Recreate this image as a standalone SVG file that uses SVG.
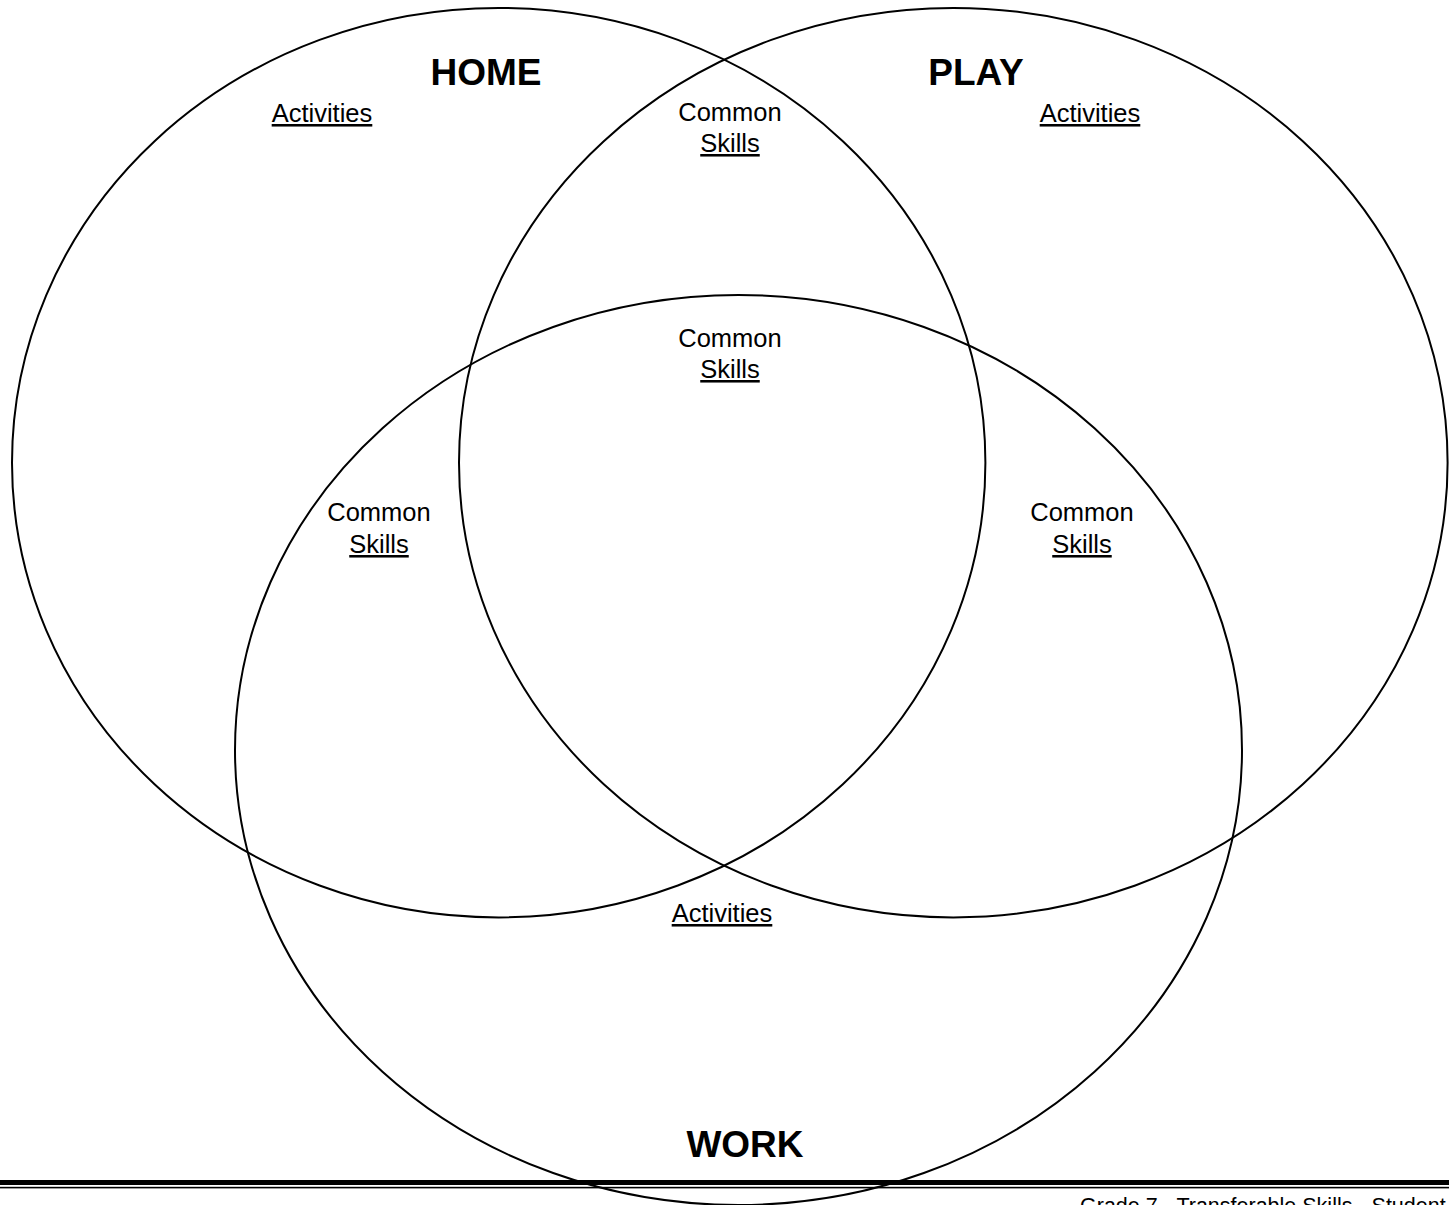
<svg xmlns="http://www.w3.org/2000/svg" width="1449" height="1205" viewBox="0 0 1449 1205">
<style>
.c{fill:none;stroke:#000;stroke-width:2}
.t{font-family:"Liberation Sans",Arial,sans-serif;font-size:25.5px;fill:#000;text-anchor:middle}
.u{text-decoration:underline}
.b{font-family:"Liberation Sans",Arial,sans-serif;font-size:37px;font-weight:bold;fill:#000;text-anchor:middle}
.f{font-family:"Liberation Sans",Arial,sans-serif;font-size:21.5px;fill:#000}
</style>
<rect width="1449" height="1205" fill="#fff"/>
<g id="footer">
<rect x="0" y="1180" width="1449" height="5" fill="#000"/>
<rect x="0" y="1186.8" width="1449" height="1.6" fill="#000"/>
<text class="f" x="1080" y="1213">Grade 7 - Transferable Skills - Student</text>
</g>
<g id="home">
<ellipse class="c" cx="498.7" cy="462.7" rx="486.7" ry="454.7"/>
<text class="b" x="486" y="85">HOME</text>
<text class="t u" x="322" y="122">Activities</text>
</g>
<g id="play">
<ellipse class="c" cx="953.3" cy="462.7" rx="494.3" ry="454.7"/>
<text class="b" x="976" y="85">PLAY</text>
<text class="t u" x="1090" y="122">Activities</text>
</g>
<g id="work">
<ellipse class="c" cx="738.5" cy="750" rx="503.5" ry="455"/>
<text class="b" x="745" y="1157">WORK</text>
<text class="t u" x="722" y="922">Activities</text>
</g>
<g id="home-play">
<text class="t" x="730" y="121">Common</text>
<text class="t u" x="730" y="152">Skills</text>
</g>
<g id="all-three">
<text class="t" x="730" y="347">Common</text>
<text class="t u" x="730" y="378">Skills</text>
</g>
<g id="home-work">
<text class="t" x="379" y="521">Common</text>
<text class="t u" x="379" y="553">Skills</text>
</g>
<g id="play-work">
<text class="t" x="1082" y="521">Common</text>
<text class="t u" x="1082" y="553">Skills</text>
</g>
</svg>
